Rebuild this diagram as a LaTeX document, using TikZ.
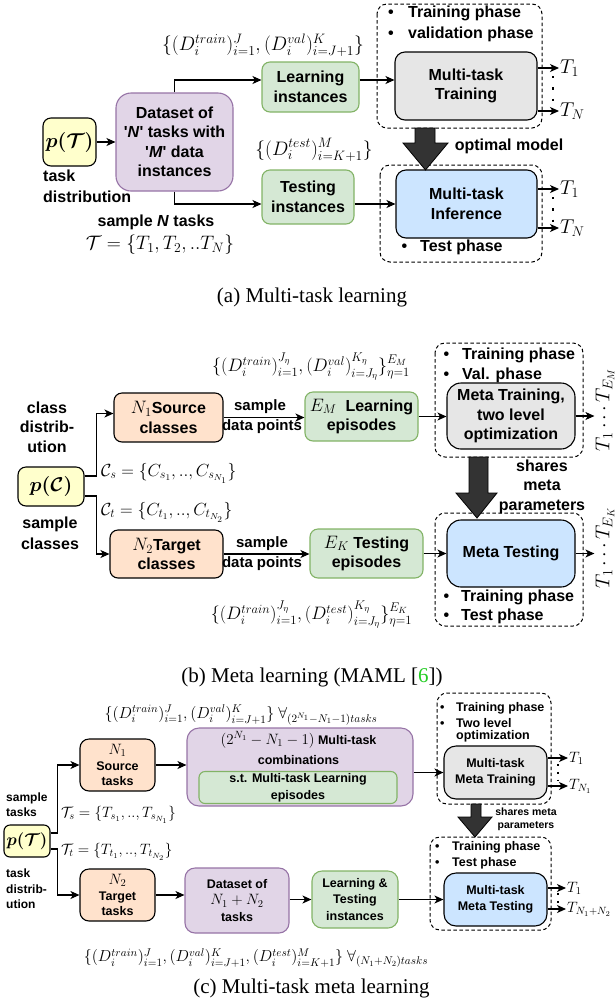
\RequirePackage{fix-cm}
\documentclass[tikz,border=0pt]{standalone}
\usepackage{amsmath,amssymb}
\usepackage[no-math]{fontspec}
\setmainfont{Liberation Serif}
\setsansfont{Liberation Sans}
\usetikzlibrary{arrows.meta}
\definecolor{yel}{HTML}{FFFFCC}
\definecolor{purp}{HTML}{E1D5E7}
\definecolor{purpS}{HTML}{9673A6}
\definecolor{grn}{HTML}{D5E8D4}
\definecolor{grnS}{HTML}{82B366}
\definecolor{org}{HTML}{FFE2CC}
\definecolor{gry}{HTML}{E6E6E6}
\definecolor{blu}{HTML}{CCE5FF}
\definecolor{dark}{HTML}{333333}
\definecolor{lnk}{HTML}{22CC22}
\newcommand\fszA{\fontsize{16}{19.5}\selectfont}
\newcommand\fszC{\fontsize{12.5}{15.5}\selectfont}
\newcommand\mszA{\fontsize{18}{21}\selectfont}
\newcommand\mszAA{\fontsize{19.5}{22}\selectfont}
\newcommand\mszB{\fontsize{20}{22}\selectfont}
\newcommand\mszC{\fontsize{15}{17}\selectfont}
\newcommand\mszCC{\fontsize{16}{18}\selectfont}
\newcommand\bitem[1]{\makebox[#1][l]{\textbullet}}
\tikzset{
  bx/.style={rounded corners=8pt, line width=1.1pt, draw=black, align=center, inner sep=0pt, font=\sffamily\bfseries\fszA},
  cbx/.style={bx, font=\sffamily\bfseries\fszC},
  lb/.style={inner sep=0pt, align=center, font=\sffamily\bfseries\fszA},
  clb/.style={inner sep=0pt, align=left, font=\sffamily\bfseries\fszC},
  dbx/.style={rounded corners=10pt, line width=1pt, dash pattern=on 3.5pt off 2.5pt},
  arw/.style={-{Stealth[length=9pt,width=8pt,inset=2.5pt]}, line width=1.1pt},
  dtl/.style={line width=2.3pt, dash pattern=on 2.3pt off 9pt},
  barr/.style={fill=dark, draw=black, line width=0.8pt},
  captn/.style={font=\fontsize{21}{24}\selectfont, inner sep=0pt}
}
\begin{document}
\begin{tikzpicture}[x=1pt,y=-1pt]
\useasboundingbox (0,0) rectangle (615,1005);

% ===================== (a) =====================
\draw[dbx] (377,4) rectangle (542,128);
\draw[dbx] (380,165) rectangle (542,262);
\node[bx,fill=yel,minimum width=53,minimum height=48] (pa) at (69.5,142) {\mszB$\boldsymbol{p(\mathcal{T})}$};
\node[bx,fill=purp,draw=purpS,rounded corners=15pt,minimum width=117,minimum height=98] (ds) at (174.5,142)
  {Dataset of\\\textquotesingle\textit{N}\textquotesingle\ tasks with\\\textquotesingle\textit{M}\textquotesingle\ data\\instances};
\node[bx,fill=grn,draw=grnS,minimum width=97,minimum height=50] (li) at (310.5,87) {Learning\\instances};
\node[bx,fill=grn,draw=grnS,minimum width=92,minimum height=54] (ti) at (308,197) {Testing\\instances};
\node[bx,fill=gry,rounded corners=10pt,minimum width=142,minimum height=68] (trn) at (466,86) {Multi-task\\Training};
\node[bx,fill=blu,rounded corners=10pt,minimum width=141,minimum height=68] (inf) at (466.5,204) {Multi-task\\Inference};

\draw[arw] (pa) -- (ds);
\draw[arw] (ds.north) |- ([yshift=7pt]li.west);
\draw[arw] (ds.south) |- (ti.west |- inf.west);
\draw[arw] ([yshift=7pt]li.east) -- ([yshift=7pt]li.east -| trn.west);
\draw[arw] (ti.east |- inf.west) -- (inf.west);

\node[lb,anchor=west,align=left,font=\sffamily\bfseries\fontsize{16}{21}\selectfont] (tdist) at (43,186.5) {task\\distribution};
\node[lb] (sampN) at (156,222) {sample \textit{N} tasks};
\node[inner sep=0pt,font=\mszAA] (tset) at (160,245) {$\mathcal{T}=\{T_1,T_2,..T_N\}$};
\node[inner sep=0pt,font=\mszAA] (dtr) at (263,45) {$\{(D_i^{train})_{i=1}^{J},(D_i^{val})_{i=J+1}^{K}\}$};
\node[inner sep=0pt,font=\mszAA] (dte) at (314,150) {$\{(D_i^{test})_{i=K+1}^{M}\}$};

\node[lb,anchor=west] (ba1) at (388,13) {\bitem{20pt}Training phase};
\node[lb,anchor=west] (ba2) at (388,34) {\bitem{20pt}validation phase};
\node[lb,anchor=west] (ba3) at (401.5,247) {\bitem{18.5pt}Test phase};

\node[inner sep=1pt,anchor=west,font=\mszB] (oa1) at (559,68) {$T_1$};
\node[inner sep=1pt,anchor=west,font=\mszB] (oa2) at (559,111) {$T_N$};
\node[inner sep=1pt,anchor=west,font=\mszB] (oa3) at (559,189) {$T_1$};
\node[inner sep=1pt,anchor=west,font=\mszB] (oa4) at (559,228) {$T_N$};
\draw[arw] (trn.east |- oa1.west) -- (oa1.west);
\draw[arw] (trn.east |- oa2.west) -- (oa2.west);
\draw[arw] (inf.east |- oa3.west) -- (oa3.west);
\draw[arw] (inf.east |- oa4.west) -- (oa4.west);
\draw[dtl] (553,76) -- (553,101);
\draw[dtl] (553,197) -- (553,222);

\draw[barr] (415,128) -- (435,128) -- (435,143) -- (448,143) -- (425.5,170) -- (403,143) -- (415,143) -- cycle;
\node[lb] (optm) at (509,146) {optimal model};

\node[captn] (capa) at (312,297) {(a) Multi-task learning};

% ===================== (b) =====================
\draw[dbx] (435,343) rectangle (583,457);
\draw[dbx] (435,513) rectangle (583,626);
\node[bx,fill=yel,minimum width=66,minimum height=39] (pc) at (51,486.5) {\mszB$\boldsymbol{p(\mathcal{C})}$};
\node[bx,fill=org,minimum width=109,minimum height=49] (src) at (168.5,417.5) {{\mszA$N_1$}Source\\classes};
\node[bx,fill=org,minimum width=113,minimum height=48] (tgt) at (166.5,554) {{\mszA$N_2$}Target\\classes};
\node[bx,fill=grn,draw=grnS,minimum width=113,minimum height=49] (em) at (361.5,416.5) {{\mszA$E_M$}\ \ Learning\\episodes};
\node[bx,fill=grn,draw=grnS,minimum width=113,minimum height=49] (ek) at (366.5,553.5) {{\mszA$E_K$} Testing\\episodes};
\node[bx,fill=gry,rounded corners=14pt,minimum width=128,minimum height=66] (mtr) at (511,416) {Meta Training,\\two level\\optimization};
\node[bx,fill=blu,rounded corners=14pt,minimum width=128,minimum height=67] (mte) at (511,553.5) {Meta Testing};

\draw[arw] ([yshift=10.5pt]pc.east) -| ([xshift=-17pt,yshift=4pt]src.west) -- ([yshift=4pt]src.west);
\draw[arw] ([yshift=-9.5pt]pc.east) -| ([xshift=-13pt]tgt.west) -- (tgt.west);
\draw[arw] (src.east) -- (src.east -| em.west);
\draw[arw] (tgt.east) -- (tgt.east -| ek.west);
\draw[arw] (em.east) -- (em.east -| mtr.west);
\draw[arw] (ek.east) -- (ek.east -| mte.west);

\node[lb,font=\sffamily\bfseries\fontsize{15}{19}\selectfont] (s1) at (260,407) {sample};
\node[lb,font=\sffamily\bfseries\fontsize{15}{19}\selectfont] (d1) at (262,427) {data points};
\node[lb,font=\sffamily\bfseries\fontsize{15}{19}\selectfont] (s2) at (262,544) {sample};
\node[lb,font=\sffamily\bfseries\fontsize{15}{19}\selectfont] (d2) at (262,564) {data points};

\node[lb] (cdist) at (47,427) {class\\distrib-\\ution};
\node[lb,font=\sffamily\bfseries\fontsize{16}{21}\selectfont] (scls) at (50,533.5) {sample\\classes};
\node[inner sep=0pt,anchor=west,font=\fontsize{17.5}{20}\selectfont] (cs) at (101,473) {$\mathcal{C}_s=\{C_{s_1},..,C_{s_{N_1}}\}$};
\node[inner sep=0pt,anchor=west,font=\fontsize{17.5}{20}\selectfont] (ct) at (101,512) {$\mathcal{C}_t=\{C_{t_1},..,C_{t_{N_2}}\}$};
\node[inner sep=0pt,font=\mszA] (dtrb) at (311,367) {$\{(D_i^{train})_{i=1}^{J_\eta},(D_i^{val})_{i=J_\eta}^{K_\eta}\}_{\eta=1}^{E_M}$};
\node[inner sep=0pt,font=\mszA] (dteb) at (311.5,615) {$\{(D_i^{train})_{i=1}^{J_\eta},(D_i^{test})_{i=J_\eta}^{K_\eta}\}_{\eta=1}^{E_K}$};

\node[lb,anchor=west] (bb1) at (443.5,355) {\bitem{18.5pt}Training phase};
\node[lb,anchor=west] (bb2) at (443.5,375) {\bitem{18.5pt}Val. phase};
\node[lb,anchor=west] (bb3) at (443.5,597) {\bitem{17.5pt}Training phase};
\node[lb,anchor=west] (bb4) at (443.5,616) {\bitem{17.5pt}Test phase};

\node[inner sep=1pt,rotate=90,font=\mszB] (rm) at (605,410) {$T_1\cdots T_{E_M}$};
\node[inner sep=1pt,rotate=90,font=\mszB] (rk) at (605,548) {$T_1\cdots T_{E_K}$};
\draw[arw] (mtr.east) -- (mtr.east -| rm.north);
\draw[arw] (mte.east) -- (mte.east -| rk.north);

\draw[barr] (469,457) -- (488,457) -- (488,493) -- (497,493) -- (477,518) -- (456,493) -- (469,493) -- cycle;
\node[lb] (shr) at (542,486.5) {shares\\meta\\parameters};

\node[captn] (capb) at (312,677) {(b) Meta learning (MAML [\textcolor{lnk}{6}])};

% ===================== (c) =====================
\draw[dbx] (437,693) rectangle (551,804);
\draw[dbx] (430,837) rectangle (551,930);
\node[cbx,fill=yel,rounded corners=6pt,minimum width=46,minimum height=32] (pt3) at (27,841) {\fontsize{17}{19}\selectfont$\boldsymbol{p(\mathcal{T})}$};
\node[cbx,fill=org,rounded corners=9pt,minimum width=75,minimum height=52] (src3) at (117.5,765) {{\mszC$N_1$}\\Source\\tasks};
\node[cbx,fill=org,rounded corners=9pt,minimum width=75,minimum height=52] (tgt3) at (117.5,895) {{\mszC$N_2$}\\Target\\tasks};
\node[cbx,fill=purp,draw=purpS,rounded corners=12pt,minimum width=226,minimum height=78] (comb) at (300,767) {};
\node[clb,align=center,font=\sffamily\bfseries\fontsize{12.5}{20}\selectfont] (combt) at (298.5,748) {{\mszC$(2^{N_1}-N_1-1)$} Multi-task\\combinations};
\node[cbx,fill=grn,draw=grnS,rounded corners=6pt,minimum width=198,minimum height=32,font=\sffamily\bfseries\fontsize{12.5}{17}\selectfont] (inr) at (298,787.5) {s.t. Multi-task Learning\\episodes};
\node[cbx,fill=gry,rounded corners=12pt,minimum width=103,minimum height=53] (mtr3) at (495.5,772.5) {Multi-task\\Meta Training};
\node[cbx,fill=blu,rounded corners=12pt,minimum width=103,minimum height=53] (mte3) at (495.5,899.5) {Multi-task\\Meta Testing};
\node[cbx,fill=purp,draw=purpS,rounded corners=10pt,minimum width=104,minimum height=65] (ds3) at (237,900.5) {Dataset of\\[1pt]{\mszC$N_1+N_2$}\\[1pt]tasks};
\node[cbx,fill=grn,draw=grnS,rounded corners=10pt,minimum width=86,minimum height=57,font=\sffamily\bfseries\fontsize{12.5}{16.5}\selectfont] (lt) at (355,899.5) {Learning \&\\Testing\\instances};

\draw[arw] ([yshift=8pt]pt3.east) -| ([xshift=-22pt]src3.west) -- (src3.west);
\draw[arw] ([yshift=-8pt]pt3.east) -| ([xshift=-22pt]tgt3.west) -- (tgt3.west);
\draw[arw] (src3.east) -- (src3.east -| comb.west);
\draw[arw] (comb.east |- mtr3.west) -- (mtr3.west);
\draw[arw] (tgt3.east) -- (tgt3.east -| ds3.west);
\draw[arw] (ds3.east |- lt.west) -- (lt.west);
\draw[arw] (lt.east) -- (lt.east -| mte3.west);

\node[clb,anchor=west,font=\sffamily\bfseries\fontsize{12}{15}\selectfont] (stk) at (6,804.5) {sample\\tasks};
\node[clb,anchor=west,font=\sffamily\bfseries\fontsize{12}{15.5}\selectfont] (tdd) at (6,889) {task\\distrib-\\ution};
\node[inner sep=0pt,anchor=west,font=\mszC] (tsl) at (61,815) {$\mathcal{T}_s=\{T_{s_1},..,T_{s_{N_1}}\}$};
\node[inner sep=0pt,anchor=west,font=\mszC] (ttl) at (61,852) {$\mathcal{T}_t=\{T_{t_1},..,T_{t_{N_2}}\}$};
\node[inner sep=0pt,font=\mszCC] (dtrc) at (241,715) {$\{(D_i^{train})_{i=1}^{J},(D_i^{val})_{i=J+1}^{K}\}\ \forall_{(2^{N_1}-N_1-1)tasks}$};
\node[inner sep=0pt,font=\mszCC] (dtec) at (256,958) {$\{(D_i^{train})_{i=1}^{J},(D_i^{val})_{i=J+1}^{K},(D_i^{test})_{i=K+1}^{M}\}\ \forall_{(N_1+N_2)tasks}$};

\node[clb,anchor=west] (bc1) at (440,708) {\bitem{16pt}Training phase};
\node[clb,anchor=west] (bc2) at (440,723) {\bitem{16pt}Two level};
\node[clb,anchor=west] (bc3) at (456,736) {optimization};
\node[clb,anchor=west] (bc4) at (435,847) {\bitem{17pt}Training phase};
\node[clb,anchor=west] (bc5) at (435,863) {\bitem{17pt}Test phase};

\node[inner sep=1pt,anchor=west,font=\mszC] (oc1) at (568,758) {$T_1$};
\node[inner sep=1pt,anchor=west,font=\mszC] (oc2) at (568,786) {$T_{N_1}$};
\node[inner sep=1pt,anchor=west,font=\mszC] (oc3) at (566,888) {$T_1$};
\node[inner sep=1pt,anchor=west,font=\mszC] (oc4) at (566,909) {$T_{N_1+N_2}$};
\draw[arw] (mtr3.east |- oc1.west) -- (oc1.west);
\draw[arw] (mtr3.east |- oc2.west) -- (oc2.west);
\draw[arw] (mte3.east |- oc3.west) -- (oc3.west);
\draw[arw] (mte3.east |- oc4.west) -- (oc4.west);
\draw[dtl,line width=1.8pt,dash pattern=on 1.8pt off 6pt] (558,764) -- (558,782);
\draw[dtl,line width=1.8pt,dash pattern=on 1.8pt off 6pt] (558,893) -- (558,905);

\draw[barr] (471,804) -- (481,804) -- (481,817) -- (492,817) -- (475,837) -- (458,817) -- (471,817) -- cycle;
\node[lb,font=\sffamily\bfseries\fontsize{10.5}{13}\selectfont] (shr3) at (526,819.5) {shares meta\\parameters};

\node[captn] (capc) at (311.5,988) {(c) Multi-task meta learning};
\end{tikzpicture}
\end{document}
